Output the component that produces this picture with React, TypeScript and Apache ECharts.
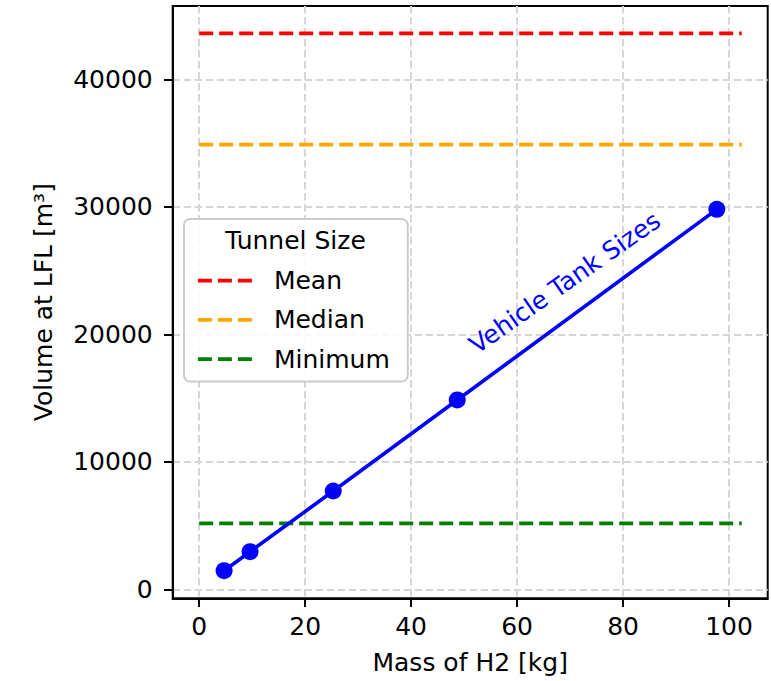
import React, { useEffect, useRef } from "react";
import * as echarts from "echarts";

const massKg = [4.7, 9.6, 25.3, 48.7, 97.7];
const volumeM3 = [1460, 2950, 7710, 14850, 29800];
const tunnelNames = ["Mean", "Median", "Minimum"];
const tunnelVolumes = [43600, 34870, 5180];
const tunnelColors = ["#ff0000", "#ffa500", "#008000"];
const tunnelSpanX = [0, 102.4];
const xTicks = [0, 20, 40, 60, 80, 100];
const yTicks = [0, 10000, 20000, 30000, 40000];
const xRange = [-5.0, 107.3];
const yRange = [-706, 45750];
const xTitle = "Mass of H2 [kg]";
const yTitle = "Volume at LFL [m³]";
const legendTitle = "Tunnel Size";
const annotationText = "Vehicle Tank Sizes";
const annotationAt = [69.0, 24050];
const annotationAngleDeg = 35;

const FONT = "DejaVu Sans";
const DASH = [14, 6];

export default function App() {
  const ref = useRef<HTMLDivElement>(null);

  useEffect(() => {
    if (!ref.current) return;
    const chart = echarts.init(ref.current, undefined, { renderer: "svg" });

    const tunnelSeries = tunnelNames.map((name, i) => ({
      name,
      type: "line",
      data: tunnelSpanX.map((x) => [x, tunnelVolumes[i]]),
      symbol: "none",
      lineStyle: { color: tunnelColors[i], width: 3.75, type: DASH },
      itemStyle: { color: tunnelColors[i] },
      z: 3,
    }));

    const option: any = {
      animation: false,
      backgroundColor: "#ffffff",
      textStyle: { fontFamily: FONT },
      grid: {
        left: 172.7,
        right: 3.3,
        top: 6,
        bottom: 82.7,
        show: true,
        borderColor: "#000",
        borderWidth: 2,
        backgroundColor: "transparent",
        containLabel: false,
      },
      xAxis: {
        type: "value",
        min: xRange[0],
        max: xRange[1],
        splitNumber: 5,
        name: xTitle,
        nameLocation: "middle",
        nameGap: 52,
        nameTextStyle: { fontSize: 25, color: "#000", fontFamily: FONT },
        axisLine: { show: true, onZero: false, lineStyle: { color: "#000", width: 2 } },
        axisTick: {
          show: true,
          customValues: xTicks,
          length: 8.75,
          lineStyle: { color: "#000", width: 2 },
        },
        axisLabel: {
          customValues: xTicks,
          formatter: (v: number) => String(v),
          fontSize: 25,
          color: "#000",
          fontFamily: FONT,
          margin: 16,
        },
        splitLine: {
          show: true,
          lineStyle: { color: "#d6d6d6", width: 2, type: [7.4, 3.6] },
        },
      },
      yAxis: {
        type: "value",
        min: yRange[0],
        max: yRange[1],
        splitNumber: 5,
        name: yTitle,
        nameLocation: "middle",
        nameGap: 117,
        nameTextStyle: { fontSize: 25, color: "#000", fontFamily: FONT },
        axisLine: { show: true, onZero: false, lineStyle: { color: "#000", width: 2 } },
        axisTick: {
          show: true,
          customValues: yTicks,
          length: 8.75,
          lineStyle: { color: "#000", width: 2 },
        },
        axisLabel: {
          customValues: yTicks,
          formatter: (v: number) => String(v),
          fontSize: 25,
          color: "#000",
          fontFamily: FONT,
          margin: 20,
        },
        splitLine: {
          show: true,
          lineStyle: { color: "#d6d6d6", width: 2, type: [7.4, 3.6] },
        },
      },
      legend: {
        data: tunnelNames,
        orient: "vertical",
        left: 184,
        top: 219,
        padding: [49, 18, 10, 12],
        itemWidth: 54,
        itemHeight: 25,
        itemGap: 14.3,
        backgroundColor: "rgba(255,255,255,0.85)",
        borderColor: "#cccccc",
        borderWidth: 2,
        borderRadius: 6,
        selectedMode: false,
        itemStyle: { opacity: 0 },
        lineStyle: { width: 3.75, type: DASH },
        textStyle: {
          fontSize: 25,
          color: "#000",
          fontFamily: FONT,
          padding: [0, 0, 0, 17],
        },
        z: 6,
      },
      series: [
        ...tunnelSeries,
        {
          name: "Vehicle Tank Sizes",
          type: "line",
          data: massKg.map((m, i) => [m, volumeM3[i]]),
          symbol: "circle",
          symbolSize: 17,
          lineStyle: { color: "#0000ff", width: 3.6 },
          itemStyle: { color: "#0000ff" },
          z: 4,
        },
      ],
    };

    chart.setOption(option);

    const p = chart.convertToPixel({ gridIndex: 0 }, annotationAt) as number[];
    chart.setOption({
      graphic: [
        {
          type: "text",
          x: 295.5,
          y: 240,
          z: 20,
          style: {
            text: legendTitle,
            fontSize: 25,
            fontFamily: FONT,
            fill: "#000",
            textAlign: "center",
            textVerticalAlign: "middle",
          },
        },
        {
          type: "text",
          x: p[0],
          y: p[1],
          rotation: (annotationAngleDeg * Math.PI) / 180,
          z: 20,
          style: {
            text: annotationText,
            fontSize: 25,
            fontFamily: FONT,
            fill: "#0000ff",
            textAlign: "center",
            textVerticalAlign: "middle",
          },
        },
      ],
    });

    return () => chart.dispose();
  }, []);

  return (
    <div
      ref={ref}
      style={{ position: "absolute", left: 0, top: 0, width: 771, height: 681 }}
    />
  );
}
